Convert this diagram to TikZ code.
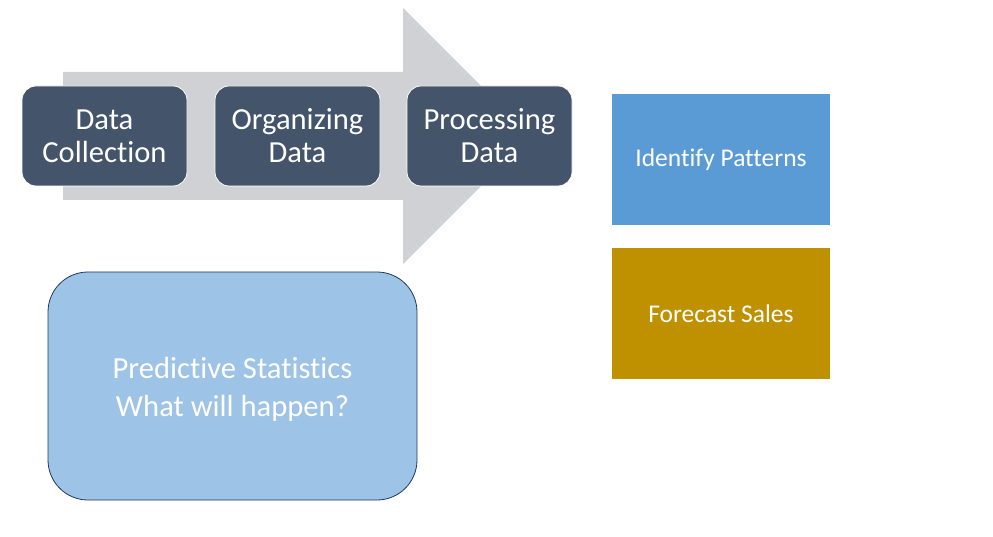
\documentclass[tikz,border=0pt]{standalone}
\usepackage{fontspec}
\setmainfont{Carlito}[Ligatures={NoCommon,NoContextual}, Contextuals=NoAlternate]
\definecolor{slateblue}{HTML}{44546A}
\definecolor{arrowgray}{HTML}{D0D1D5}
\definecolor{paleblue}{HTML}{9DC3E6}
\definecolor{edgeblue}{HTML}{203864}
\definecolor{midblue}{HTML}{5B9BD5}
\definecolor{gold}{HTML}{BF9000}
\usetikzlibrary{positioning}

\begin{document}
\begin{tikzpicture}[x=1pt, y=-1pt,
  stagebox/.style={draw=white, line width=0.8pt, fill=slateblue, rounded corners=14pt,
    minimum width=165pt, minimum height=100pt, text=white, align=center,
    font=\fontsize{30.6}{33}\selectfont},
  sidebox/.style={fill=#1, minimum width=218pt, minimum height=131pt, text=white,
    font=\fontsize{25.5}{30}\selectfont}]
  \useasboundingbox (0,0) rectangle (993,537);
  \fill[arrowgray] (63,72) -- (403,72) -- (403,8) -- (531,136) -- (403,264) -- (403,200) -- (63,200) -- cycle;
  \node[stagebox] (collect) at (104.5,136) {Data\\Collection};
  \node[stagebox] (organize) at (297.5,136) {Organizing\\Data};
  \node[stagebox] (process) at (489.5,136) {Processing\\Data};
  \node[draw=edgeblue, line width=0.8pt, fill=paleblue, rounded corners=40pt,
    minimum width=369pt, minimum height=228pt] (predict) at (232.5,386) {};
  \node[text=white, align=center, font=\fontsize{30.6}{38}\selectfont] (predicttext)
    at ([yshift=-3.5pt]predict.center) {Predictive Statistics\\What will happen?};
  \node[sidebox=midblue] (patterns) at (721,159.5) {Identify Patterns};
  \node[sidebox=gold] (forecast) at (721,313.5) {Forecast Sales};
\end{tikzpicture}
\end{document}
